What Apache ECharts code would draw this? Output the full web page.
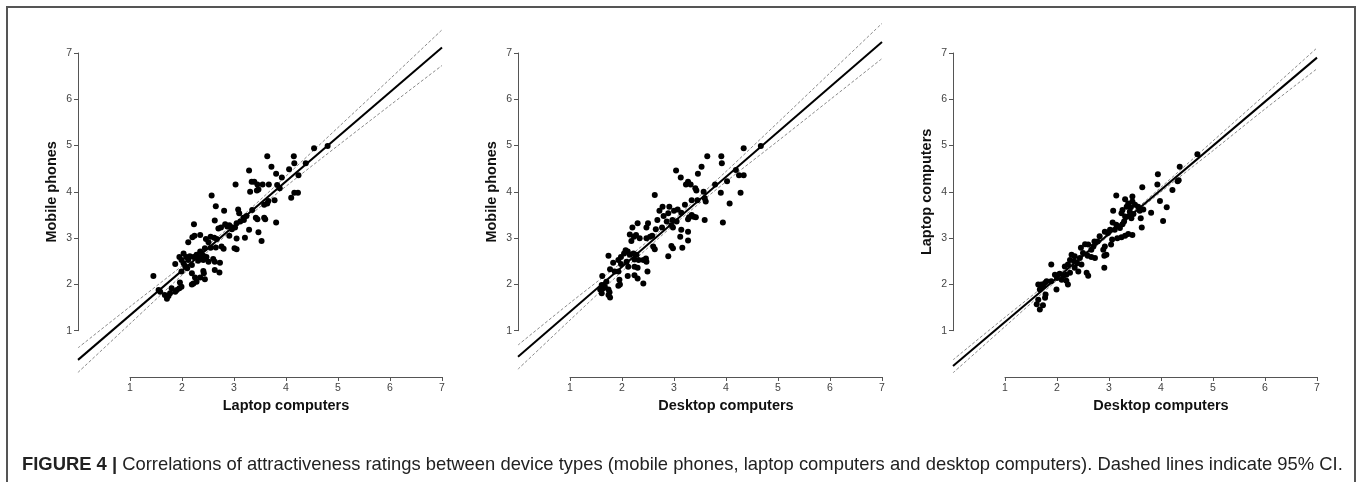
<!DOCTYPE html>
<html><head><meta charset="utf-8">
<script src="https://cdn.jsdelivr.net/npm/echarts@6/dist/echarts.min.js"></script>
<style>html,body{margin:0;padding:0;background:#fff}#c{width:1357px;height:482px}</style>
</head><body><div id="c"></div>
<script>
// ---------- DATA ----------
const X_NAMES = ['Laptop computers', 'Desktop computers', 'Desktop computers'];
const Y_NAMES = ['Mobile phones', 'Mobile phones', 'Laptop computers'];
const CAPTION_LABEL = 'FIGURE 4 |';
const CAPTION_TEXT = 'Correlations of attractiveness ratings between device types (mobile phones, laptop computers and desktop computers). Dashed lines indicate 95% CI.';

// Panel 1: Laptop (x) vs Mobile (y)
const P1_X = [3.64,4.15,4.54,4.80,3.72,4.16,4.38,4.06,3.29,3.81,3.92,4.24,3.03,3.34,3.39,3.45,3.55,3.67,3.83,3.44,3.47,3.31,3.88,4.16,4.23,4.10,2.57,3.66,3.64,3.78,3.58,2.65,3.08,2.81,3.10,3.35,3.24,3.18,3.42,3.45,3.58,3.60,3.81,2.63,2.23,2.83,2.87,2.91,2.97,3.02,2.96,3.05,3.12,3.19,2.70,2.75,3.29,3.47,3.53,3.21,2.91,3.05,2.55,2.46,2.35,2.24,2.20,2.12,2.62,2.67,2.76,2.80,3.01,3.05,2.65,2.51,2.55,2.44,2.35,2.28,2.22,2.36,2.41,2.47,2.03,2.08,1.95,2.15,2.12,1.99,1.87,2.03,2.06,2.10,2.19,2.31,2.41,2.51,2.60,2.63,2.73,1.99,2.19,2.41,2.42,2.63,2.72,2.25,2.35,2.44,2.19,2.22,2.28,1.96,1.99,1.95,1.90,1.80,1.87,1.77,1.67,1.74,1.71,1.55,1.58,1.45];
const P1_Y = [4.77,4.77,4.94,4.99,4.54,4.62,4.62,4.49,4.46,4.39,4.31,4.36,4.16,4.22,4.22,4.16,4.16,4.16,4.15,4.03,4.05,4.00,4.08,3.98,3.98,3.87,3.92,3.80,3.75,3.82,3.72,3.69,3.62,3.59,3.54,3.61,3.48,3.44,3.44,3.41,3.44,3.41,3.34,3.38,3.30,3.30,3.25,3.28,3.23,3.23,3.19,3.32,3.36,3.39,3.21,3.23,3.18,3.13,2.94,3.01,3.05,2.99,3.03,2.98,3.07,3.05,3.02,2.91,3.01,2.98,2.82,2.77,2.78,2.76,2.80,2.91,2.79,2.78,2.71,2.64,2.59,2.59,2.62,2.59,2.67,2.59,2.59,2.61,2.53,2.53,2.44,2.46,2.40,2.35,2.42,2.51,2.53,2.49,2.55,2.49,2.47,2.28,2.24,2.29,2.24,2.31,2.26,2.15,2.15,2.11,2.00,2.02,2.06,2.04,1.95,1.92,1.88,1.92,1.84,1.81,1.77,1.75,1.69,1.88,1.84,2.18];

// Panel 2: Desktop (x) vs Mobile (y)
const P2_X = [4.34,4.67,3.64,3.91,3.92,3.53,3.04,3.46,4.19,4.25,4.34,3.13,4.02,3.23,3.27,3.32,3.41,3.43,3.79,3.57,3.59,3.61,2.63,3.90,4.28,3.34,3.45,4.07,3.21,2.91,2.78,2.72,3.00,2.89,2.80,3.07,3.14,3.34,3.29,3.27,3.38,3.42,3.59,3.94,2.68,2.97,2.86,3.05,2.95,2.98,2.77,2.65,3.14,3.27,3.12,3.27,2.30,2.20,2.50,2.47,2.15,2.27,2.23,2.54,2.47,2.58,2.34,2.18,2.60,2.63,2.95,2.98,3.16,2.89,2.07,2.11,2.04,2.15,2.22,2.28,1.98,1.74,1.93,2.09,2.24,2.32,2.41,2.46,2.47,1.83,1.98,2.12,2.24,2.30,1.86,1.93,1.77,2.11,2.24,2.30,2.49,2.41,1.95,1.93,1.96,1.62,1.70,1.61,1.64,1.67,1.58,1.61,1.74,1.76,1.74,1.77];
const P2_Y = [4.94,4.99,4.77,4.77,4.62,4.54,4.46,4.39,4.47,4.36,4.36,4.31,4.23,4.16,4.22,4.16,4.08,4.03,4.16,4.00,3.86,3.79,3.93,3.98,3.98,3.82,3.82,3.75,3.72,3.68,3.68,3.59,3.59,3.54,3.48,3.62,3.55,3.50,3.45,3.41,3.46,3.45,3.39,3.34,3.39,3.39,3.36,3.36,3.28,3.23,3.23,3.19,3.18,3.14,3.03,2.95,3.32,3.23,3.32,3.23,3.08,3.07,3.03,3.03,3.00,3.05,3.00,2.94,2.82,2.76,2.83,2.78,2.79,2.61,2.74,2.71,2.67,2.64,2.67,2.64,2.59,2.62,2.53,2.49,2.54,2.53,2.53,2.56,2.49,2.47,2.44,2.38,2.38,2.36,2.28,2.28,2.33,2.18,2.20,2.13,2.28,2.02,2.10,1.97,2.00,2.18,2.06,1.99,1.92,1.95,1.89,1.81,1.89,1.83,1.77,1.72];

// Panel 3: Desktop (x) vs Laptop (y)
const P3_X = [4.70,4.36,4.32,4.34,3.94,3.93,3.64,4.22,3.98,4.11,4.04,3.81,3.14,3.31,3.45,3.45,3.37,3.34,3.42,3.50,3.56,3.66,3.59,3.26,3.40,3.47,3.39,3.31,3.24,3.08,3.43,3.61,3.63,3.45,3.29,3.26,3.07,3.14,3.21,3.11,3.02,2.98,2.92,3.24,3.31,3.37,3.16,3.06,3.04,2.92,2.89,2.95,2.91,2.91,2.82,2.78,2.72,2.70,2.66,2.60,2.54,2.46,2.50,2.59,2.66,2.73,2.44,2.34,2.28,2.25,2.33,2.39,2.47,2.21,2.15,2.34,2.41,2.57,2.60,2.25,2.18,2.12,2.18,2.21,2.09,2.05,2.00,1.96,1.89,1.89,1.80,1.77,1.70,1.73,1.67,1.64,1.99,1.78,1.77,1.64,1.61,1.67,1.73];
const P3_Y = [4.81,4.54,4.23,4.25,4.38,4.16,4.10,4.04,3.80,3.67,3.37,3.55,3.92,3.84,3.90,3.79,3.75,3.68,3.67,3.72,3.68,3.62,3.59,3.61,3.57,3.52,3.48,3.47,3.54,3.59,3.43,3.43,3.23,3.07,3.36,3.30,3.34,3.29,3.22,3.18,3.18,3.11,3.14,3.02,3.05,3.09,3.00,2.97,2.86,2.82,2.75,2.64,2.62,2.36,3.04,2.93,2.93,2.82,2.75,2.86,2.87,2.79,2.68,2.62,2.59,2.57,2.57,2.61,2.64,2.53,2.50,2.46,2.43,2.43,2.39,2.36,2.28,2.25,2.19,2.25,2.21,2.18,2.08,2.00,2.10,2.23,2.14,2.21,2.43,2.07,2.07,2.03,2.00,1.96,1.89,2.00,1.89,1.78,1.71,1.67,1.57,1.46,1.55];

// Regression lines (values at x = 0 and x = 7)
const FIT_X = [0, 7];
const FIT1 = [0.37, 7.12];
const FIT2 = [0.44, 7.24];
const FIT3 = [0.24, 6.90];

// 95% CI bands read at x = 0..7
const CI_X = [0, 1, 2, 3, 4, 5, 6, 7];
const CI1_UP = [0.63, 1.52, 2.40, 3.32, 4.34, 5.39, 6.44, 7.50];
const CI1_LO = [0.10, 1.15, 2.20, 3.21, 4.12, 5.00, 5.87, 6.73];
const CI2_UP = [0.69, 1.60, 2.48, 3.41, 4.44, 5.50, 6.57, 7.64];
const CI2_LO = [0.17, 1.23, 2.28, 3.29, 4.22, 5.10, 5.99, 6.88];
const CI3_UP = [0.37, 1.29, 2.19, 3.12, 4.10, 5.10, 6.10, 7.11];
const CI3_LO = [0.09, 1.09, 2.09, 3.06, 4.00, 4.89, 5.79, 6.66];

// ---------- CHART ----------
const zip = (xs, ys) => xs.map((x, i) => [x, ys[i]]);
const panels = [
  {xs: P1_X, ys: P1_Y, fit: FIT1, up: CI1_UP, lo: CI1_LO},
  {xs: P2_X, ys: P2_Y, fit: FIT2, up: CI2_UP, lo: CI2_LO},
  {xs: P3_X, ys: P3_Y, fit: FIT3, up: CI3_UP, lo: CI3_LO}
];
const FONT = '"Liberation Sans", Arial, Helvetica, sans-serif';
const LEFTS = [78, 518, 953];
const TOP = 53, W = 364, H = 324;
const ux = W / 7, uy = H / 7;
const grids = [], xAxes = [], yAxes = [], series = [];
const hidden = (g) => ({gridIndex: g, type: 'value', min: 0, max: 7, show: false});
const axisStyle = {
  axisLine: {show: true, onZero: false, lineStyle: {color: '#555', width: 1}},
  axisTick: {show: true, length: 4, lineStyle: {color: '#555', width: 1}},
  axisLabel: {color: '#444', fontSize: 10.5, fontFamily: FONT},
  splitLine: {show: false},
  nameLocation: 'middle',
  nameTextStyle: {fontFamily: FONT, fontWeight: 'bold', fontSize: 14.5, color: '#111'}
};
panels.forEach((p, i) => {
  const L = LEFTS[i];
  const g = i * 3;
  grids.push({left: L, top: TOP, width: W, height: H, outerBoundsMode: 'none'});
  grids.push({left: L + ux, top: TOP, width: 6 * ux, height: H, outerBoundsMode: 'none'});
  grids.push({left: L, top: TOP, width: W, height: 6 * uy, outerBoundsMode: 'none'});
  xAxes.push(hidden(g));
  yAxes.push(hidden(g));
  const xa = Object.assign({gridIndex: g + 1, type: 'value', min: 1, max: 7, interval: 1, position: 'bottom',
    name: X_NAMES[i], nameGap: 21}, axisStyle);
  xa.axisLabel = Object.assign({}, axisStyle.axisLabel, {margin: 6});
  xAxes.push(xa);
  yAxes.push(hidden(g + 1));
  xAxes.push(hidden(g + 2));
  const ya = Object.assign({gridIndex: g + 2, type: 'value', min: 1, max: 7, interval: 1, position: 'left',
    name: Y_NAMES[i], nameGap: 19}, axisStyle);
  ya.axisLabel = Object.assign({}, axisStyle.axisLabel, {margin: 6});
  yAxes.push(ya);

  series.push({type: 'line', xAxisIndex: g, yAxisIndex: g, data: zip(CI_X, p.up), symbol: 'none', smooth: 0.3,
    clip: false, lineStyle: {color: '#8a8a8a', width: 1, type: [3, 2]}, silent: true, z: 2});
  series.push({type: 'line', xAxisIndex: g, yAxisIndex: g, data: zip(CI_X, p.lo), symbol: 'none', smooth: 0.3,
    clip: false, lineStyle: {color: '#8a8a8a', width: 1, type: [3, 2]}, silent: true, z: 2});
  series.push({type: 'line', xAxisIndex: g, yAxisIndex: g, data: zip(FIT_X, p.fit), symbol: 'none',
    clip: false, lineStyle: {color: '#000', width: 2}, silent: true, z: 3});
  series.push({type: 'scatter', xAxisIndex: g, yAxisIndex: g, data: zip(p.xs, p.ys), symbolSize: 6,
    clip: false, itemStyle: {color: '#000', opacity: 1}, silent: true, z: 4});
});

const chart = echarts.init(document.getElementById('c'), null, {renderer: 'canvas'});
chart.setOption({
  animation: false,
  backgroundColor: '#fff',
  grid: grids,
  xAxis: xAxes,
  yAxis: yAxes,
  series: series,
  graphic: [
    {type: 'rect', silent: true, shape: {x: 7, y: 7, width: 1348, height: 520},
      style: {fill: 'none', stroke: '#555', lineWidth: 2}},
    {type: 'text', silent: true, x: 22, y: 465,
      style: {text: '{b|' + CAPTION_LABEL + '} ' + CAPTION_TEXT, fontFamily: FONT, fontSize: 18.4, fill: '#222',
        verticalAlign: 'middle', align: 'left',
        rich: {b: {fontFamily: FONT, fontSize: 18.4, fontWeight: 'bold', fill: '#222'}}}}
  ]
});
</script>
</body></html>
